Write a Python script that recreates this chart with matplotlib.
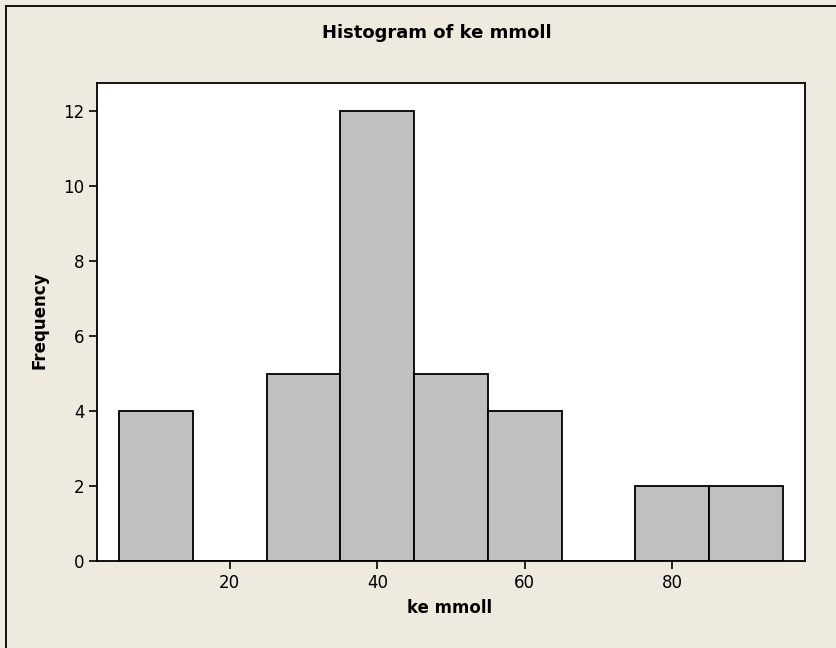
import matplotlib.pyplot as plt
from matplotlib.lines import Line2D

# binned counts of ke mmoll (bin width 10, from 5 to 95)
bin_edges = [5, 15, 25, 35, 45, 55, 65, 75, 85, 95]
counts = [4, 0, 5, 12, 5, 4, 0, 2, 2]

bg = '#eeeae0'
fig = plt.figure(figsize=(8.36, 6.48), dpi=100, facecolor=bg)

W, H = 836.0, 648.0
ax = fig.add_axes([97 / W, 1 - 561 / H, (805 - 97) / W, (561 - 83) / H])
ax.set_facecolor('white')

lefts = bin_edges[:-1]
widths = [b - a for a, b in zip(bin_edges[:-1], bin_edges[1:])]
ax.bar(lefts, counts, width=widths, align='edge', color='#c0c0c0',
       edgecolor='black', linewidth=1.3, zorder=2)

ax.set_xlim(2, 98)
ax.set_ylim(0, 12.75)
ax.set_xticks([20, 40, 60, 80])
ax.set_yticks(range(0, 13, 2))
ax.tick_params(direction='out', length=6, width=1.2, labelsize=12, pad=3)
for s in ax.spines.values():
    s.set_linewidth(1.3)

fig.text(437 / W, 1 - 33 / H, 'Histogram of ke mmoll', ha='center', va='center',
         fontsize=13, fontweight='bold')
fig.text(450 / W, 1 - 608 / H, 'ke mmoll', ha='center', va='center',
         fontsize=12, fontweight='bold')
fig.text(40 / W, 1 - 320 / H, 'Frequency', ha='center', va='center',
         fontsize=12, fontweight='bold', rotation=90)

# frame lines along the top and left edges of the figure
x0, y0 = 5.5 / W, 1 - 5.5 / H
fig.add_artist(Line2D([x0, 1], [y0, y0], color='black', lw=1.3, transform=fig.transFigure))
fig.add_artist(Line2D([x0, x0], [0, y0], color='black', lw=1.3, transform=fig.transFigure))

fig.savefig('out.png', dpi=100, facecolor=bg)
